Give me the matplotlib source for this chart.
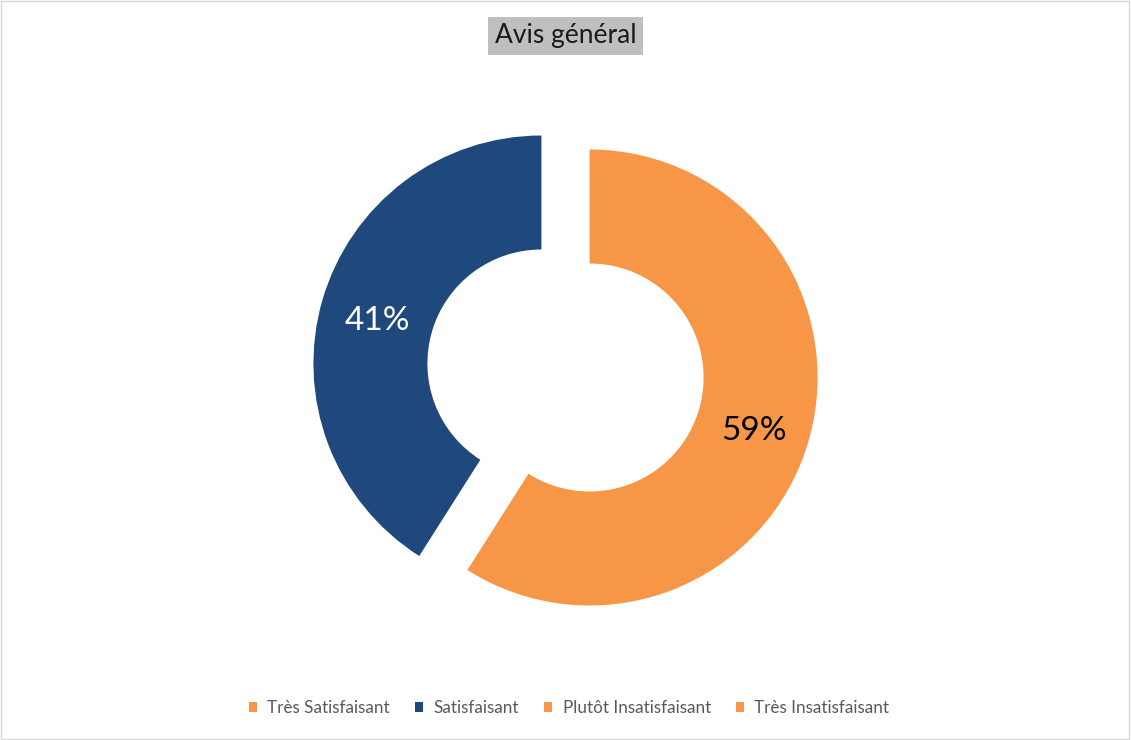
import matplotlib.pyplot as plt
from matplotlib.patches import Rectangle

# Data
categories = ['Très Satisfaisant', 'Satisfaisant', 'Plutôt Insatisfaisant', 'Très Insatisfaisant']
values = [0, 41, 59, 0]
colors = ['#F79646', '#1F497D', '#F79646', '#F79646']
label_colors = ['black', 'white', 'black', 'black']
title = 'Avis général'

plt.rcParams['font.family'] = ['Lato', 'DejaVu Sans']

W, H = 1131, 740
fig = plt.figure(figsize=(W / 100, H / 100), dpi=100)

# pie axes: 1 data unit = 228 px, centre at (565.5, 370.5) from top-left
R = 228
L = 1.4
cx, cy = 565.5, H - 370.5
ax = fig.add_axes([(cx - L * R) / W, (cy - L * R) / H, 2 * L * R / W, 2 * L * R / H])

wedges, texts, autotexts = ax.pie(
    values, colors=colors, startangle=90, counterclock=True,
    explode=[0.11] * len(values),
    wedgeprops=dict(width=0.5, linewidth=0),
    autopct=lambda p: f'{p:.0f}%' if p > 0 else '',
    pctdistance=0.75,
    textprops=dict(fontsize=24),
)
for t, c in zip(autotexts, label_colors):
    t.set_color(c)
    x, y = t.get_position()
    t.set_position((x, y - 0.025))
ax.set_xlim(-L, L)
ax.set_ylim(-L, L)
ax.set_aspect('equal')
ax.axis('off')

# title with grey box
fig.text(cx / W, 1 - 36 / H, title, ha='center', va='center', fontsize=19,
         color='#1a1a1a',
         bbox=dict(facecolor='#BFBFBF', edgecolor='none', pad=5))

# legend
leg = fig.legend(wedges, categories, loc='center', bbox_to_anchor=(569 / W, 1 - 708 / H),
                 ncol=4, frameon=False, fontsize=12.3, handlelength=0.5,
                 handleheight=0.5, handletextpad=0.6, columnspacing=1.45)
for t in leg.get_texts():
    t.set_color('#595959')

# chart border
fig.patches.append(Rectangle((0.001, 0.001), 0.997, 0.997, transform=fig.transFigure,
                             fill=False, edgecolor='#D9D9D9', linewidth=1))

fig.savefig('out.png', dpi=100, facecolor='white')
